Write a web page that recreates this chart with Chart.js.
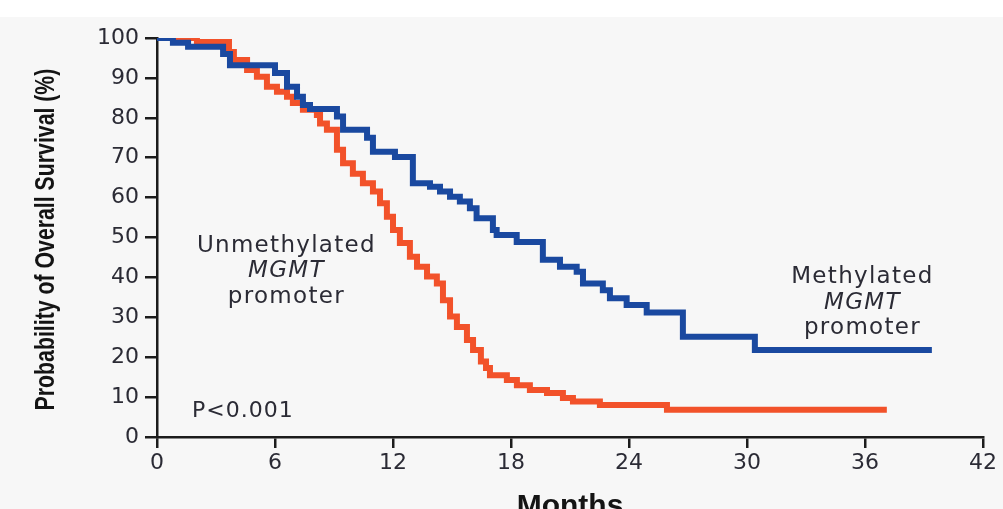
<!DOCTYPE html>
<html>
<head>
<meta charset="utf-8">
<script src="https://cdn.jsdelivr.net/npm/chart.js@4.4.1/dist/chart.umd.min.js"></script>
<style>
  html, body { margin: 0; padding: 0; background: #f7f7f7; }
  canvas { display: block; }
</style>
</head>
<body>
<canvas id="kmChart" width="1003" height="509"></canvas>
<script type="text/javascript">
// Kaplan-Meier steps: month of each drop, survival (%) after it
var methylatedMonths   = [0, 0.81, 1.58, 3.36, 3.71, 6.0, 6.61, 7.12, 7.42, 7.78, 9.15, 9.46, 10.68, 10.98, 12.1, 13.01, 13.88, 14.39, 14.9, 15.4, 15.91, 16.25, 17.08, 17.27, 18.29, 19.62, 20.49, 21.34, 21.66, 22.67, 23.03, 23.88, 24.9, 26.74, 30.4, 39.4];
var methylatedSurvival = [100, 98.8, 97.8, 96, 93.2, 91.2, 87.8, 85.3, 83.2, 82.2, 80.3, 77, 75, 71.5, 70.2, 63.6, 62.7, 61.5, 60.2, 59, 57.3, 54.8, 51.9, 50.6, 48.9, 44.4, 42.7, 41.4, 38.5, 36.8, 34.8, 33.1, 31.2, 25.1, 21.8, 21.8];

var unmethylatedMonths   = [0, 2.03, 3.66, 3.91, 4.58, 5.08, 5.59, 6.1, 6.61, 6.91, 7.42, 8.13, 8.29, 8.64, 9.15, 9.46, 9.96, 10.47, 10.98, 11.34, 11.69, 12.0, 12.35, 12.86, 13.22, 13.73, 14.23, 14.54, 14.9, 15.25, 15.76, 16.07, 16.47, 16.73, 16.93, 17.79, 18.3, 18.96, 19.83, 20.64, 21.15, 22.52, 25.93, 37.11];
var unmethylatedSurvival = [100, 99, 96.5, 94.5, 92, 90.3, 87.8, 86.5, 85.3, 83.7, 82, 80.7, 78.6, 77, 72, 68.6, 66, 63.6, 61.5, 58.6, 55.2, 51.9, 48.6, 45.2, 42.7, 40.2, 38.5, 34.3, 30.2, 27.6, 24.3, 21.8, 18.9, 17.3, 15.5, 14.3, 13, 11.8, 11, 9.8, 8.9, 8.0, 6.8, 6.8];

var monthTicks = [0, 6, 12, 18, 24, 30, 36, 42];
var survivalTicks = [0, 10, 20, 30, 40, 50, 60, 70, 80, 90, 100];

var xTitle = "Months";
var yTitle = "Probability of Overall Survival (%)";

function toPoints(xs, ys) {
  return xs.map(function (x, i) { return { x: x, y: ys[i] }; });
}

var ink = "#2b2b35";
var axisColor = "#1c1c1c";

// text labels placed in data coordinates (month, percent of first baseline)
var curveLabels = [
  { lines: ["Unmethylated", "MGMT", "promoter"], month: 6.58, pct: 46.4 },
  { lines: ["Methylated", "MGMT", "promoter"], month: 35.87, pct: 38.5 }
];

var backgroundPlugin = {
  id: "bg",
  beforeDraw: function (chart) {
    var ctx = chart.ctx;
    ctx.save();
    ctx.fillStyle = "#f7f7f7";
    ctx.fillRect(0, 0, chart.width, chart.height);
    ctx.fillStyle = "#ffffff";
    ctx.fillRect(0, 0, chart.width, 17);
    ctx.restore();
  }
};

// bold axis titles; the y one is squeezed along its length like the original
var titlePlugin = {
  id: "axisTitles",
  afterDraw: function (chart) {
    var ctx = chart.ctx, a = chart.chartArea;
    ctx.save();
    ctx.fillStyle = "#141414";
    ctx.textAlign = "center";
    ctx.save();
    ctx.font = "bold 28px 'Liberation Sans', Arial, sans-serif";
    ctx.textBaseline = "middle";
    ctx.translate(46, (a.top + a.bottom) / 2 + 2);
    ctx.rotate(-Math.PI / 2);
    ctx.scale(0.76, 1);
    ctx.fillText(yTitle, 0, 0);
    ctx.restore();
    ctx.font = "bold 30px 'Liberation Sans', Arial, sans-serif";
    ctx.textBaseline = "alphabetic";
    ctx.fillText(xTitle, (a.left + a.right) / 2, 515);
    ctx.restore();
  }
};

var labelPlugin = {
  id: "labels",
  afterDatasetsDraw: function (chart) {
    var ctx = chart.ctx;
    var xs = chart.scales.x, ys = chart.scales.y;
    ctx.save();
    ctx.fillStyle = ink;
    ctx.textBaseline = "alphabetic";
    ctx.textAlign = "center";
    ctx.letterSpacing = "1.3px";
    curveLabels.forEach(function (lab) {
      var px = xs.getPixelForValue(lab.month);
      var py = ys.getPixelForValue(lab.pct);
      lab.lines.forEach(function (line, i) {
        ctx.font = (i === 1 ? "oblique " : "") + "23px 'DejaVu Sans'";
        ctx.fillText(line, px, py + i * 25.5);
      });
    });
    ctx.font = "22px 'DejaVu Sans'";
    ctx.textAlign = "left";
    ctx.letterSpacing = "1px";
    ctx.fillText("P<0.001", xs.getPixelForValue(1.78), ys.getPixelForValue(4.9));
    ctx.restore();
  }
};

var tickFont = { family: "'DejaVu Sans'", size: 22 };

var chart = new Chart("kmChart", {
  type: "line",
  data: {
    datasets: [
      {
        label: "Methylated MGMT promoter",
        data: toPoints(methylatedMonths, methylatedSurvival),
        borderColor: "#1a49a0",
        borderWidth: 6,
        stepped: "before",
        fill: false,
        pointRadius: 0,
        borderJoinStyle: "miter"
      },
      {
        label: "Unmethylated MGMT promoter",
        data: toPoints(unmethylatedMonths, unmethylatedSurvival),
        borderColor: "#f2522a",
        borderWidth: 6,
        stepped: "before",
        fill: false,
        pointRadius: 0,
        borderJoinStyle: "miter"
      }
    ]
  },
  options: {
    responsive: false,
    animation: false,
    devicePixelRatio: 1,
    layout: { padding: { left: 0, top: 38, right: 20, bottom: 0 } },
    plugins: {
      legend: { display: false },
      tooltip: { enabled: false }
    },
    scales: {
      x: {
        type: "linear",
        min: 0,
        max: 42,
        afterBuildTicks: function (scale) {
          scale.ticks = monthTicks.map(function (v) { return { value: v }; });
        },
        afterFit: function (scale) { scale.height = 72; },
        ticks: { color: ink, font: tickFont, padding: 2, maxRotation: 0 },
        grid: { drawOnChartArea: false, tickLength: 11, color: axisColor, lineWidth: 2.5 },
        border: { display: true, color: axisColor, width: 2.5 }
      },
      y: {
        min: 0,
        max: 100,
        afterBuildTicks: function (scale) {
          scale.ticks = survivalTicks.map(function (v) { return { value: v }; });
        },
        afterFit: function (scale) { scale.width = 157; },
        ticks: { color: ink, font: tickFont, padding: 6 },
        grid: { drawOnChartArea: false, tickLength: 12, color: axisColor, lineWidth: 2.5 },
        border: { display: true, color: axisColor, width: 2.5 }
      }
    }
  },
  plugins: [backgroundPlugin, labelPlugin, titlePlugin]
});
</script>
</body>
</html>
